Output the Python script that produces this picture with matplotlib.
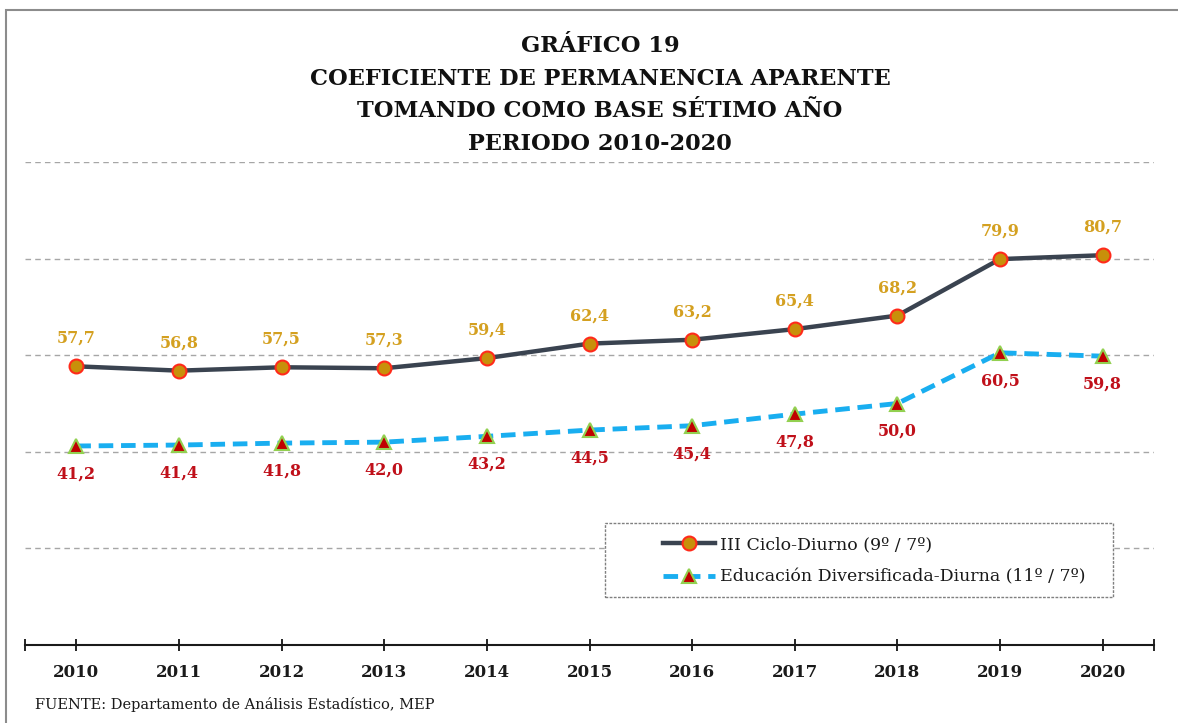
import numpy as np
import matplotlib.pyplot as plt
from matplotlib.patches import Rectangle

# datos
anios = ["2010", "2011", "2012", "2013", "2014", "2015", "2016", "2017", "2018", "2019", "2020"]
ciclo_iii = [57.7, 56.8, 57.5, 57.3, 59.4, 62.4, 63.2, 65.4, 68.2, 79.9, 80.7]
diversificada = [41.2, 41.4, 41.8, 42.0, 43.2, 44.5, 45.4, 47.8, 50.0, 60.5, 59.8]

titulo = "GRÁFICO 19\nCOEFICIENTE DE PERMANENCIA APARENTE\nTOMANDO COMO BASE SÉTIMO AÑO\nPERIODO 2010-2020"
fuente = "FUENTE: Departamento de Análisis Estadístico, MEP"

plt.rcParams['font.family'] = ['DejaVu Serif']

W, H = 1178, 723
fig = plt.figure(figsize=(W / 100, H / 100), dpi=100)
ax = fig.add_axes([25 / W, 1 - 645 / H, (1154 - 25) / W, (645 - 162) / H])

x = np.arange(len(anios))

ax.plot(x, ciclo_iii, color='#3a4350', lw=3.2, marker='o', ms=10,
        mfc='#c8900a', mec='#ff2a1a', mew=1.5, label='III Ciclo-Diurno (9º / 7º)', zorder=3)
ax.plot(x, diversificada, color='#19aef0', lw=3.5, ls=(0, (3, 1.6)), marker='^', ms=10,
        mfc='#c00000', mec='#92d050', mew=1.5,
        label='Educación Diversificada-Diurna (11º / 7º)', zorder=3)

for xi, v in zip(x, ciclo_iii):
    ax.annotate(f"{v:.1f}".replace('.', ','), (xi, v), xytext=(0, 14), textcoords='offset points',
                ha='center', va='bottom', fontsize=11.5, fontweight='bold', color='#d4a020')
for xi, v in zip(x, diversificada):
    ax.annotate(f"{v:.1f}".replace('.', ','), (xi, v), xytext=(0, -14), textcoords='offset points',
                ha='center', va='top', fontsize=11.5, fontweight='bold', color='#c0101a')

ax.set_xlim(-0.5, len(anios) - 0.5)
ax.set_ylim(0, 100)
ax.set_yticks([20, 40, 60, 80, 100])
ax.yaxis.grid(True, color='#a6a6a6', ls=(0, (4, 3)), lw=1)
ax.set_axisbelow(True)
ax.tick_params(axis='y', left=False, labelleft=False)
ax.set_xticks(x)
ax.set_xticks([-0.5, len(anios) - 0.5], minor=True)
ax.set_xticklabels(anios, fontsize=12, fontweight='bold', color='#1a1a1a')
ax.tick_params(axis='x', which='both', direction='inout', length=9, width=1.2, pad=9)
for s in ['top', 'right', 'left']:
    ax.spines[s].set_visible(False)
ax.spines['bottom'].set_linewidth(1.5)
ax.spines['bottom'].set_color('#1a1a1a')

# caja de la leyenda (blanca, tapa la cuadrícula)
caja = Rectangle((605 / W, 1 - 597 / H), (1113 - 605) / W, (597 - 523) / H,
                 transform=fig.transFigure, facecolor='white', edgecolor='#808080',
                 ls=(0, (2, 1)), lw=1, zorder=4)
ax.add_patch(caja)
leg = ax.legend(loc='center left', bbox_to_anchor=((663 - 25) / (1154 - 25), (645 - 561) / (645 - 162)),
                fontsize=12.5, frameon=False, handlelength=3.0, handletextpad=0.3,
                borderaxespad=0, borderpad=0, labelspacing=0.88)
leg.set_zorder(6)
for t in leg.get_texts():
    t.set_color('#1a1a1a')

fig.text(600 / W, 1 - 95 / H, titulo, ha='center', va='center', fontsize=16.2,
         fontweight='bold', color='#111111', linespacing=1.62)
fig.text(35 / W, 1 - 705 / H, fuente, ha='left', va='center', fontsize=10.5, color='#1a1a1a')

fig.patches.append(Rectangle((6 / W, -0.1), 1.2, 1.1 - 10 / H, transform=fig.transFigure,
                             fill=False, edgecolor='#8c8c8c', lw=1.5))

fig.savefig('out.png', dpi=100)
